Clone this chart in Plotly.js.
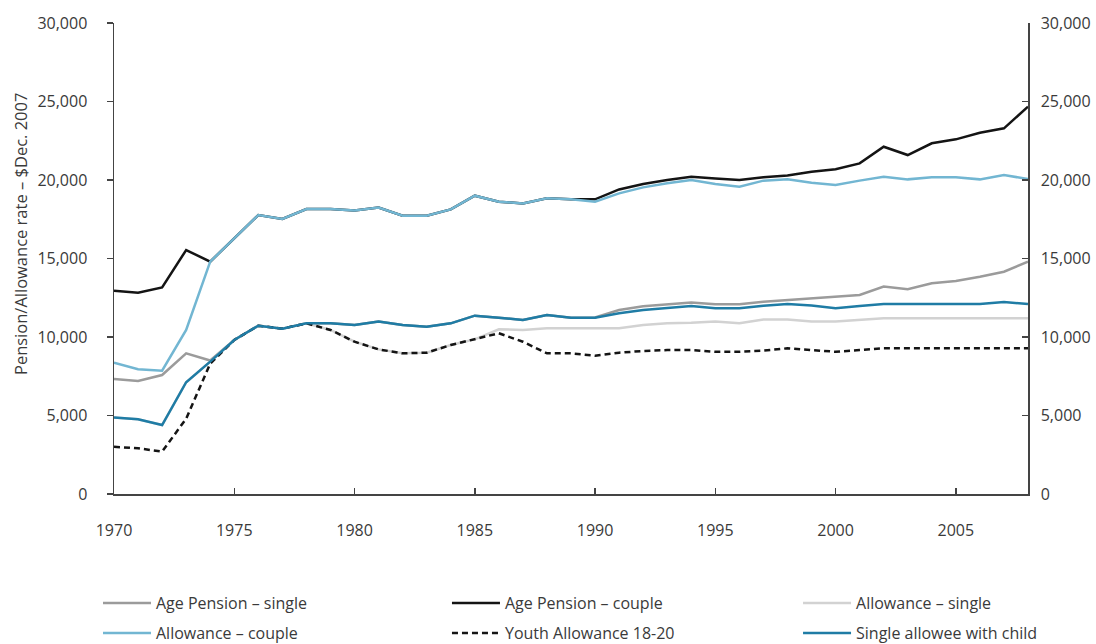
<!DOCTYPE html>
<html>
<head>
<meta charset="utf-8">
<script src="https://cdn.plot.ly/plotly-3.0.1.min.js"></script>
<style>
  html, body { margin: 0; padding: 0; background: #fff; }
  #chart { width: 1096px; height: 644px; }
</style>
</head>
<body>
<div id="chart"></div>
<script>
const years = [1970,1971,1972,1973,1974,1975,1976,1977,1978,1979,
               1980,1981,1982,1983,1984,1985,1986,1987,1988,1989,
               1990,1991,1992,1993,1994,1995,1996,1997,1998,1999,
               2000,2001,2002,2003,2004,2005,2006,2007,2008];

const agePensionSingle = [7320,7200,7580,8960,8500,9810,10720,10530,10870,10870,
                          10760,10980,10760,10660,10870,11360,11230,11080,11400,11230,
                          11250,11720,11960,12060,12200,12080,12080,12250,12360,12460,
                          12570,12680,13210,13040,13420,13570,13840,14160,14800];

const agePensionCouple = [12950,12820,13160,15540,14800,16300,17770,17520,18150,18150,
                          18050,18240,17730,17730,18130,19000,18620,18510,18830,18770,
                          18770,19400,19750,20000,20210,20100,20000,20170,20280,20530,
                          20680,21060,22120,21590,22340,22590,23010,23290,24670];

const allowanceSingle = [4880,4760,4390,7120,8430,9810,10720,10530,10870,10450,
                         9700,9210,8960,9000,9490,9850,10490,10450,10550,10550,
                         10550,10550,10760,10870,10900,10980,10870,11120,11120,10980,
                         10980,11080,11190,11190,11190,11190,11190,11190,11190];

const allowanceCouple = [8370,7950,7850,10450,14800,16300,17770,17520,18150,18150,
                         18050,18240,17730,17730,18130,19000,18620,18510,18830,18770,
                         18620,19150,19530,19790,20000,19750,19570,19960,20040,19830,
                         19680,19960,20210,20040,20170,20170,20040,20320,20060];

const youthAllowance = [3010,2910,2700,4800,8300,9810,10720,10530,10870,10450,
                        9700,9210,8960,9000,9490,9850,10240,9700,8960,8960,
                        8810,9000,9110,9170,9170,9060,9060,9130,9280,9170,
                        9060,9170,9280,9280,9280,9280,9280,9280,9280];

const singleAlloweeChild = [4880,4760,4390,7120,8430,9810,10720,10530,10870,10870,
                            10760,10980,10760,10660,10870,11360,11230,11080,11400,11230,
                            11230,11510,11720,11830,11970,11830,11830,11990,12100,12000,
                            11830,11970,12100,12100,12100,12100,12100,12230,12100];

const seriesNames = ['Age Pension \u2013 single', 'Age Pension \u2013 couple', 'Allowance \u2013 single',
                     'Allowance \u2013 couple', 'Youth Allowance 18-20', 'Single allowee with child'];

const xTicks = [1970,1975,1980,1985,1990,1995,2000,2005];
const yTicks = [0,5000,10000,15000,20000,25000,30000];

const FONT = 'Open Sans, Noto Sans, sans-serif';
const TXT = '#3a3a3a';

function tr(y, name, color, legend, dash) {
  return {
    x: years, y: y, name: name, type: 'scatter', mode: 'lines',
    line: {color: color, width: 2.5, dash: dash || 'solid'},
    legend: legend, hoverinfo: 'skip'
  };
}

const data = [
  tr(agePensionSingle, seriesNames[0], '#9b9b9b', 'legend'),
  tr(agePensionCouple, seriesNames[1], '#141414', 'legend2'),
  tr(allowanceSingle, seriesNames[2], '#d2d2d2', 'legend3'),
  tr(allowanceCouple, seriesNames[3], '#72b6d2', 'legend4'),
  tr(youthAllowance, seriesNames[4], '#141414', 'legend5', '6px,4px'),
  tr(singleAlloweeChild, seriesNames[5], '#1f7ca5', 'legend6')
];
// invisible trace to draw right axis
data.push({x: [years[0]], y: [0], yaxis: 'y2', mode: 'markers', marker: {opacity: 0},
           showlegend: false, hoverinfo: 'skip'});

function leg(x, y) {
  return {
    orientation: 'h', xanchor: 'left', yanchor: 'middle', x: x, y: y,
    itemwidth: 48, font: {family: FONT, size: 16, color: TXT},
    bgcolor: 'rgba(0,0,0,0)', borderwidth: 0
  };
}
const colX = [-0.0175, 0.3643, 0.7484];
const rowY = [-0.2314, -0.2951];

const layout = {
  width: 1096, height: 644,
  margin: {l: 114, r: 68, t: 23, b: 150, autoexpand: false},
  paper_bgcolor: '#fff', plot_bgcolor: '#fff',
  font: {family: FONT, size: 16, color: TXT},
  showlegend: true,
  xaxis: {
    range: [1970, 2008], tickvals: xTicks, ticks: 'inside', ticklen: 6, tickwidth: 1.5,
    tickcolor: '#444', showline: true, linecolor: '#444', linewidth: 1.5,
    showgrid: false, zeroline: false, ticklabelstandoff: 21,
    tickfont: {family: FONT, size: 16, color: TXT}
  },
  yaxis: {
    range: [0, 30000], tickvals: yTicks, tickformat: ',d', ticks: 'outside', ticklen: 6,
    tickwidth: 1.5, tickcolor: '#444', showline: true, linecolor: '#444', linewidth: 1.5,
    showgrid: false, zeroline: false, ticklabelstandoff: 16,
    tickfont: {family: FONT, size: 16, color: TXT}
  },
  yaxis2: {
    overlaying: 'y', side: 'right', range: [0, 30000], tickvals: yTicks, tickformat: ',d',
    ticks: 'inside', ticklen: 6, tickwidth: 1.5, tickcolor: '#444',
    showline: true, linecolor: '#444', linewidth: 1.5, showgrid: false, zeroline: false,
    ticklabelstandoff: 8, tickfont: {family: FONT, size: 16, color: TXT}
  },
  legend: leg(colX[0], rowY[0]),
  legend2: leg(colX[1], rowY[0]),
  legend3: leg(colX[2], rowY[0]),
  legend4: leg(colX[0], rowY[1]),
  legend5: leg(colX[1], rowY[1]),
  legend6: leg(colX[2], rowY[1]),
  annotations: [{
    text: 'Pension/Allowance rate \u2013 $Dec. 2007',
    xref: 'paper', yref: 'paper', x: -0.1028, y: 0.552,
    xanchor: 'center', yanchor: 'middle', textangle: -90, showarrow: false,
    font: {family: FONT, size: 16.5, color: TXT}
  }]
};

Plotly.newPlot('chart', data, layout, {displayModeBar: false, staticPlot: true});
</script>
</body>
</html>
